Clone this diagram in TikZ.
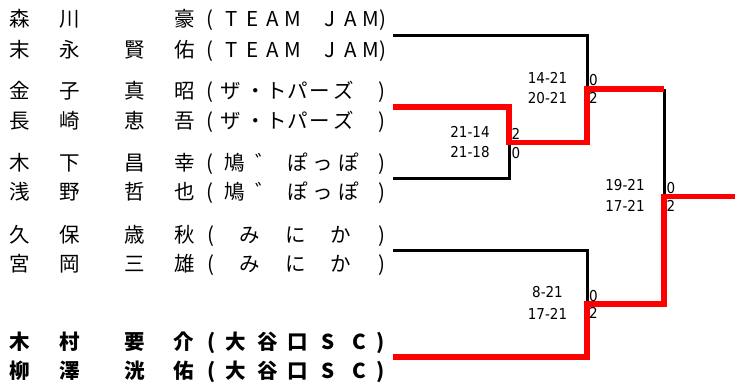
\documentclass[tikz,border=0pt]{standalone}
\usepackage{fontspec}
\newfontfamily\jpfont{Noto Sans CJK JP}
\newfontfamily\scorefont{DejaVu Sans Condensed}
\tikzset{
  ch/.style={anchor=base, inner sep=0pt, font=\jpfont\fontsize{20.5}{20.5}\selectfont},
  chb/.style={ch, font=\jpfont\bfseries\fontsize{20.5}{20.5}\selectfont},
  score/.style={anchor=base, inner sep=0pt, font=\scorefont\fontsize{15}{15}\selectfont},
  blk/.style={line width=3pt, black, line join=miter},
  rd/.style={line width=5.5pt, red, line join=miter},
}
\newcommand\prow[4]{%
  \foreach \x/\c [count=\i] in {#4} \node[#3] (#1c\i) at (\x,#2) {\c};
}
\begin{document}
\begin{tikzpicture}[x=1pt,y=-1pt]
\useasboundingbox (0,0) rectangle (735,383);
% names
\prow{r1}{26.8}{ch}{20/森,70/川,185/豪,210/{(},231.5/T,252.5/E,272.5/A,292.5/M,330/J,350.5/A,370.5/M,383/{)}}
\prow{r2}{57.3}{ch}{20/末,70/永,135/賢,185/佑,210/{(},231.5/T,252.5/E,272.5/A,292.5/M,330/J,350.5/A,370.5/M,383/{)}}
\prow{r3}{98.8}{ch}{20/金,70/子,135/真,185/昭,210/{(},231/ザ,256/・,277/ト,297.5/パ,320/ー,344/ズ,381.5/{)}}
\prow{r4}{128.3}{ch}{20/長,70/崎,135/恵,185/吾,210/{(},231/ザ,256/・,277/ト,297.5/パ,320/ー,344/ズ,381.5/{)}}
\prow{r5}{170.8}{ch}{20/木,70/下,135/昌,185/幸,210/{(},235/鳩,266/゛,297.5/ぽ,322.5/っ,349/ぽ,381.5/{)}}
\prow{r6}{199.8}{ch}{20/浅,70/野,135/哲,185/也,210/{(},235/鳩,266/゛,297.5/ぽ,322.5/っ,349/ぽ,381.5/{)}}
\prow{r7}{242.8}{ch}{20/久,70/保,135/歳,185/秋,211/{(},250/み,296/に,341/か,381.5/{)}}
\prow{r8}{271.8}{ch}{20/宮,70/岡,135/三,185/雄,211/{(},250/み,296/に,341/か,381.5/{)}}
\prow{r9}{349.8}{chb}{20/木,70/村,135/要,184/介,212/{(},236/大,268/谷,298/口,328/S,359/C,381/{)}}
\prow{r10}{378.8}{chb}{20/柳,70/澤,135/洸,184/佑,212/{(},236/大,268/谷,298/口,328/S,359/C,381/{)}}
% bracket coordinates
\coordinate (a1) at (393,35.2);
\coordinate (m1) at (587,89);
\coordinate (a2) at (393,107);
\coordinate (m2) at (509,142.5);
\coordinate (a3) at (393,178);
\coordinate (a4) at (393,250.3);
\coordinate (m3) at (587,304);
\coordinate (a5) at (393,357);
\coordinate (f) at (664,196.5);
\coordinate (e) at (735,196.5);
\draw[blk] (a1) -| (m1);
\draw[blk] (a3) -| (m2);
\draw[blk] (a4) -| (m3);
\draw[blk] (m1 -| f) -- (f);
\draw[rd] (a2) -| (m2) -| (m1) -- (m1 -| f);
\draw[rd] (a5) -| (m3) -| (f) -- (e);
% scores
\node[score] (s1a) at (547.5,83.4) {14-21};
\node[score] (s1b) at (547.5,103.7) {20-21};
\node[score] (w1a) at (593.5,85.4) {0};
\node[score] (w1b) at (593.5,103.9) {2};
\node[score] (s2a) at (470,137.9) {21-14};
\node[score] (s2b) at (470,157.9) {21-18};
\node[score] (w2a) at (516,139.4) {2};
\node[score] (w2b) at (516,158.4) {0};
\node[score] (s3a) at (625,190.4) {19-21};
\node[score] (s3b) at (625,211.4) {17-21};
\node[score] (w3a) at (671,193.4) {0};
\node[score] (w3b) at (671,211.9) {2};
\node[score] (s4a) at (547.5,297.9) {8-21};
\node[score] (s4b) at (547.5,319.4) {17-21};
\node[score] (w4a) at (593.5,301.4) {0};
\node[score] (w4b) at (593.5,318.9) {2};
\end{tikzpicture}
\end{document}
